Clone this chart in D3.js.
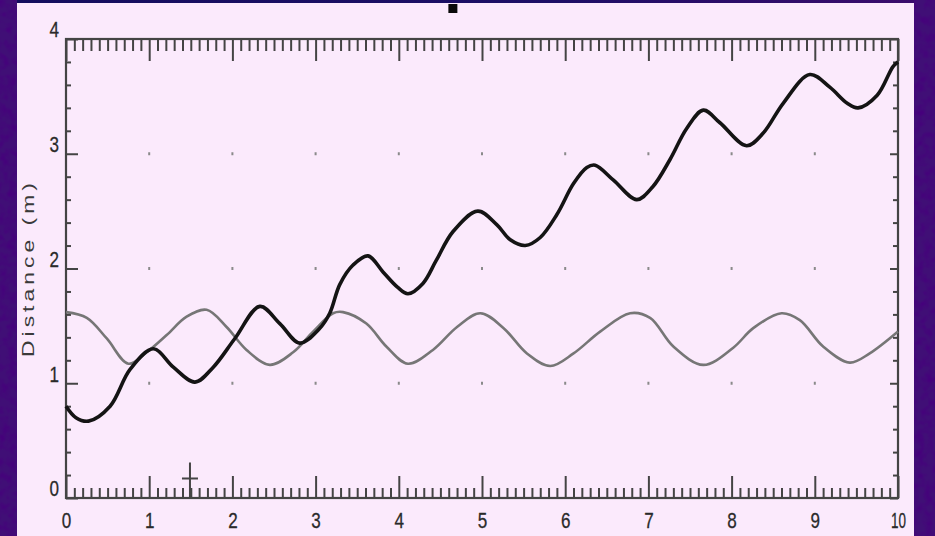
<!DOCTYPE html>
<html>
<head>
<meta charset="utf-8">
<script src="https://cdn.jsdelivr.net/npm/d3@7"></script>
<style>
  html, body { margin: 0; padding: 0; background: #3b0c6e; }
  svg { display: block; }
  .lbl { font-family: "Liberation Sans", Arial, sans-serif; font-size: 22px; fill: #2a2a2a; stroke: #2a2a2a; stroke-width: 0.3px; }
</style>
</head>
<body>
<svg id="chart" width="935" height="536"></svg>
<script>
// Position of the moving object (black) and the oscillating reference (gray), time in s
const blackT = [0, 0.12, 0.27, 0.53, 0.77, 1.05, 1.29, 1.55, 1.77, 2.03, 2.33, 2.57, 2.81, 3.04, 3.17, 3.29, 3.45, 3.63, 3.81, 3.98, 4.11, 4.29, 4.45, 4.65, 4.95, 5.18, 5.34, 5.52, 5.70, 5.90, 6.10, 6.26, 6.36, 6.58, 6.86, 7.05, 7.26, 7.46, 7.66, 7.86, 8.18, 8.38, 8.62, 8.94, 9.18, 9.39, 9.52, 9.75, 9.94, 10];
const blackD = [0.80, 0.70, 0.67, 0.80, 1.12, 1.30, 1.14, 1.01, 1.14, 1.39, 1.67, 1.52, 1.35, 1.47, 1.61, 1.86, 2.03, 2.11, 1.97, 1.84, 1.78, 1.87, 2.07, 2.32, 2.50, 2.38, 2.25, 2.20, 2.27, 2.47, 2.74, 2.88, 2.90, 2.77, 2.60, 2.71, 2.95, 3.22, 3.38, 3.27, 3.07, 3.18, 3.44, 3.69, 3.58, 3.44, 3.40, 3.51, 3.76, 3.80];

const grayT = [0, 0.25, 0.49, 0.75, 0.97, 1.21, 1.45, 1.69, 1.93, 2.17, 2.45, 2.73, 2.97, 3.21, 3.33, 3.61, 3.85, 4.11, 4.41, 4.70, 4.98, 5.26, 5.54, 5.82, 6.10, 6.42, 6.78, 7.02, 7.30, 7.66, 8.02, 8.26, 8.60, 8.82, 9.10, 9.42, 9.66, 10];
const grayD = [1.62, 1.57, 1.39, 1.17, 1.27, 1.42, 1.58, 1.64, 1.49, 1.29, 1.16, 1.27, 1.45, 1.61, 1.62, 1.52, 1.32, 1.17, 1.29, 1.49, 1.61, 1.48, 1.26, 1.15, 1.26, 1.45, 1.61, 1.57, 1.32, 1.16, 1.31, 1.48, 1.61, 1.55, 1.32, 1.18, 1.26, 1.45];

const xMajor = [0, 1, 2, 3, 4, 5, 6, 7, 8, 9, 10];
const yMajor = [0, 1, 2, 3, 4];
const yTitle = "Distance (m)";
const cursor = { t: 1.49, d: 0.17 };
const topMarkerT = 4.65;

const svg = d3.select("#chart");
const W = 935, H = 536;

// textured purple backdrop
const defs = svg.append("defs");
const f = defs.append("filter").attr("id", "grain").attr("x", 0).attr("y", 0).attr("width", 1).attr("height", 1);
f.append("feTurbulence").attr("type", "fractalNoise").attr("baseFrequency", 0.12).attr("numOctaves", 2).attr("seed", 4).attr("result", "n");
f.append("feColorMatrix").attr("in", "n").attr("type", "matrix")
  .attr("values", "0 0 0 0 0.06  0 0 0 0 0.0  0 0 0 0 0.2  2.2 0 0 0 -0.85");
const topGrad = defs.append("linearGradient").attr("id", "topband");
topGrad.append("stop").attr("offset", "0%").attr("stop-color", "#140e5e");
topGrad.append("stop").attr("offset", "60%").attr("stop-color", "#1d0f66");
topGrad.append("stop").attr("offset", "100%").attr("stop-color", "#3a0c6c");

svg.append("rect").attr("width", W).attr("height", H).attr("fill", "#400f76");
svg.append("rect").attr("width", W).attr("height", H).attr("fill", "#000").attr("filter", "url(#grain)");
svg.append("rect").attr("x", 17).attr("y", 0).attr("width", 897).attr("height", 3).attr("fill", "url(#topband)");

// pink panel
svg.append("rect").attr("x", 17).attr("y", 3).attr("width", 897).attr("height", H - 3).attr("fill", "#fbeafc");

const x = d3.scaleLinear().domain([0, 10]).range([66, 898]);
const y = d3.scaleLinear().domain([0, 4]).range([498, 39]);

const axisColor = "#444";
const minorX = d3.range(0, 101).map(i => i / 10).filter(v => !xMajor.includes(v));
const minorY = d3.range(0, 21).map(i => i / 5).filter(v => !yMajor.includes(v));

function styleAxis(g) {
  g.selectAll(".domain").remove();
  g.selectAll(".tick line").attr("stroke", axisColor).attr("stroke-width", 2);
}
// narrow, tall tick digits
function styleLabels(g) {
  g.attr("font-size", null).attr("font-family", null);
  g.selectAll("text").attr("class", "lbl").attr("fill", null)
    .attr("textLength", function () { const s = this.textContent; return s.length > 1 ? 15 : 9.5; })
    .attr("lengthAdjust", "spacingAndGlyphs");
}

// dot grid at whole-number positions
const dots = [];
xMajor.slice(1, -1).forEach(tv => yMajor.slice(1, -1).forEach(dv => dots.push([tv, dv])));
svg.append("g").selectAll("rect").data(dots).join("rect")
  .attr("x", d => x(d[0]) - 1).attr("y", d => y(d[1]) - 1.5)
  .attr("width", 2).attr("height", 3).attr("fill", "#8a8a8a");

// bottom axis
const gB = svg.append("g").attr("transform", `translate(0,${y(0)})`);
gB.append("g").call(d3.axisBottom(x).tickValues(minorX).tickSize(-10).tickSizeOuter(0).tickFormat("")).call(styleAxis);
const gBM = gB.append("g").call(d3.axisBottom(x).tickValues(xMajor).tickSize(-22).tickSizeOuter(0).tickPadding(14).tickFormat(d3.format("d")));
gBM.call(styleAxis).call(styleLabels);

// top axis
const gT = svg.append("g").attr("transform", `translate(0,${y(4)})`);
gT.append("g").call(d3.axisTop(x).tickValues(minorX).tickSize(-12).tickSizeOuter(0).tickFormat("")).call(styleAxis);
gT.append("g").call(d3.axisTop(x).tickValues(xMajor).tickSize(-22).tickSizeOuter(0).tickFormat("")).call(styleAxis);

// left axis
const gL = svg.append("g").attr("transform", `translate(${x(0)},0)`);
gL.append("g").call(d3.axisLeft(y).tickValues(minorY).tickSize(-5).tickSizeOuter(0).tickFormat("")).call(styleAxis);
const gLM = gL.append("g").call(d3.axisLeft(y).tickValues(yMajor).tickSize(-12).tickSizeOuter(0).tickPadding(7).tickFormat(d3.format("d")));
gLM.call(styleAxis).call(styleLabels);
gLM.selectAll("text").attr("dy", "-0.1em");

// right axis
const gR = svg.append("g").attr("transform", `translate(${x(10)},0)`);
gR.append("g").call(d3.axisRight(y).tickValues(minorY).tickSize(-5).tickSizeOuter(0).tickFormat("")).call(styleAxis);
gR.append("g").call(d3.axisRight(y).tickValues(yMajor).tickSize(-8).tickSizeOuter(0).tickFormat("")).call(styleAxis);

// frame
svg.append("rect").attr("x", x(0)).attr("y", y(4)).attr("width", x(10) - x(0)).attr("height", y(0) - y(4))
  .attr("fill", "none").attr("stroke", axisColor).attr("stroke-width", 2.2);

// cursor cross
const cg = svg.append("g").attr("stroke", "#444").attr("stroke-width", 2);
cg.append("line").attr("x1", x(cursor.t)).attr("x2", x(cursor.t)).attr("y1", y(cursor.d) - 16).attr("y2", y(0));
cg.append("line").attr("x1", x(cursor.t) - 8).attr("x2", x(cursor.t) + 8).attr("y1", y(cursor.d)).attr("y2", y(cursor.d));

// curves
const line = d3.line().x(d => x(d[0])).y(d => y(d[1])).curve(d3.curveCatmullRom.alpha(0.5));
svg.append("path").datum(d3.zip(grayT, grayD)).attr("d", line)
  .attr("fill", "none").attr("stroke", "#767676").attr("stroke-width", 2.6).attr("stroke-linejoin", "round");
svg.append("path").datum(d3.zip(blackT, blackD)).attr("d", line)
  .attr("fill", "none").attr("stroke", "#141414").attr("stroke-width", 3.6).attr("stroke-linejoin", "round");

// y title: wide lettering along the left edge
svg.append("text").attr("transform", `translate(34,${(178 + 358) / 2}) rotate(-90)`)
  .attr("text-anchor", "middle")
  .attr("font-family", "Liberation Sans, Arial, sans-serif").attr("font-size", 17)
  .attr("letter-spacing", 3)
  .attr("textLength", 178).attr("lengthAdjust", "spacingAndGlyphs")
  .attr("fill", "#3a3a3a").text(yTitle);

// small marker above the frame
svg.append("rect").attr("x", x(topMarkerT) - 4.5).attr("y", 4).attr("width", 9).attr("height", 9).attr("fill", "#0a0a0a");
</script>
</body>
</html>
